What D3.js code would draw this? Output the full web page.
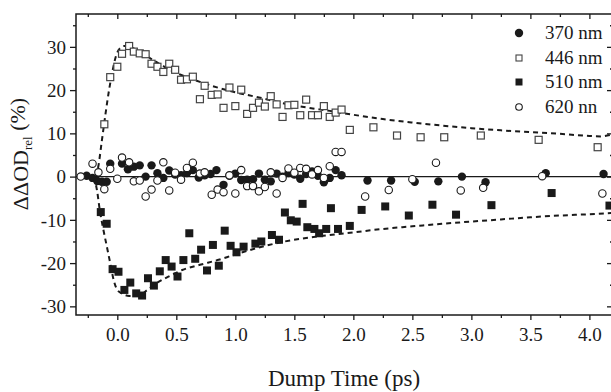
<!DOCTYPE html>
<html>
<head>
<meta charset="utf-8">
<script src="https://cdn.jsdelivr.net/npm/d3@7"></script>
<style>
  body { margin: 0; background: #fff; }
  svg text { font-family: "Liberation Serif", "Times New Roman", Times, "DejaVu Serif", serif; fill: #1a1a1a; }
</style>
</head>
<body>
<div id="chart"></div>
<script>
// ---- data ----
const t370 = [-0.26, -0.21, -0.17, -0.13, -0.09, -0.06, 0.04, 0.09, 0.14, 0.19, 0.24, 0.29, 0.34, 0.39, 0.44, 0.49, 0.54, 0.59, 0.64, 0.69, 0.74, 0.79, 0.84, 0.90, 0.95, 1.00, 1.05, 1.10, 1.15, 1.20, 1.25, 1.30, 1.35, 1.40, 1.45, 1.50, 1.55, 1.60, 1.65, 1.70, 1.75, 1.80, 1.85, 1.90, 2.12, 2.32, 2.52, 2.72, 2.92, 3.12, 3.63, 4.12];
const v370 = [0.2, -0.3, -1.0, -1.2, -1.2, 3.0, 3.0, 1.7, 2.3, 2.6, 0.0, 2.6, 0.8, -0.3, 1.4, 0.5, 0.3, 0.8, 1.5, -0.2, 0.3, 0.6, 1.5, -1.9, 0.2, 0.7, -0.8, -0.7, -0.6, 0.7, -0.7, -1.1, 0.7, 0.0, 0.8, 0.5, -0.5, 0.6, 1.2, 0.2, -1.3, -0.3, 1.5, 0.3, -0.9, -0.9, -1.2, -1.1, 0.0, -1.3, 0.8, 0.6];

const t446 = [-0.11, -0.06, 0.0, 0.04, 0.10, 0.14, 0.19, 0.24, 0.29, 0.34, 0.39, 0.44, 0.49, 0.54, 0.59, 0.64, 0.70, 0.74, 0.80, 0.85, 0.90, 0.95, 1.00, 1.05, 1.10, 1.15, 1.20, 1.25, 1.30, 1.35, 1.40, 1.45, 1.50, 1.55, 1.60, 1.65, 1.70, 1.75, 1.80, 1.85, 1.90, 1.97, 2.17, 2.37, 2.57, 2.77, 3.08, 3.57, 4.07];
const v446 = [12.1, 23.0, 25.4, 28.4, 30.2, 28.9, 28.5, 28.3, 26.1, 25.4, 24.2, 26.1, 24.7, 22.4, 22.5, 23.1, 17.9, 21.0, 18.9, 19.0, 15.9, 20.6, 16.3, 20.1, 14.5, 15.9, 17.1, 16.2, 18.6, 16.7, 13.8, 16.5, 16.6, 14.2, 17.8, 14.2, 14.2, 16.3, 13.8, 14.8, 15.5, 10.8, 11.4, 9.5, 9.1, 9.1, 9.5, 8.5, 6.8];

const t510 = [-0.14, -0.09, -0.04, 0.01, 0.06, 0.11, 0.16, 0.21, 0.26, 0.31, 0.36, 0.41, 0.46, 0.51, 0.56, 0.61, 0.66, 0.71, 0.76, 0.81, 0.86, 0.91, 0.96, 1.01, 1.07, 1.17, 1.22, 1.31, 1.37, 1.42, 1.47, 1.52, 1.57, 1.61, 1.67, 1.71, 1.77, 1.81, 1.87, 1.97, 2.07, 2.27, 2.47, 2.67, 2.87, 3.17, 3.68, 4.17];
const v510 = [-8.2, -10.9, -21.4, -22.0, -26.2, -24.5, -27.0, -27.5, -23.5, -25.2, -21.9, -19.3, -20.8, -23.1, -19.3, -13.1, -19.0, -16.9, -21.7, -15.8, -20.6, -12.5, -16.0, -17.5, -16.2, -15.5, -15.0, -13.5, -14.6, -8.3, -10.1, -10.4, -6.3, -11.7, -12.1, -13.1, -12.1, -7.3, -12.1, -11.4, -7.7, -6.9, -9.0, -6.5, -8.8, -6.6, -3.8, -6.7];

const t620 = [-0.31, -0.21, -0.16, -0.11, -0.06, 0.0, 0.04, 0.10, 0.14, 0.19, 0.24, 0.29, 0.34, 0.39, 0.44, 0.49, 0.54, 0.59, 0.64, 0.70, 0.74, 0.80, 0.85, 0.90, 0.95, 1.00, 1.05, 1.10, 1.15, 1.20, 1.25, 1.30, 1.35, 1.40, 1.45, 1.50, 1.55, 1.60, 1.65, 1.70, 1.75, 1.80, 1.85, 1.90, 2.10, 2.30, 2.50, 2.70, 2.91, 3.10, 3.60, 4.11];
const v620 = [0.0, 3.0, 1.0, -2.9, 1.8, -0.5, 4.4, 3.3, -1.1, -0.9, -4.6, -3.0, -0.9, 3.3, -3.2, 0.9, -0.7, 2.0, 3.2, 0.7, 1.0, -4.2, -3.0, -3.6, 0.3, -3.9, 1.5, -2.2, -2.2, -3.4, -2.4, 1.0, -3.9, -0.3, 1.9, 0.9, 2.0, 1.8, 0.5, 1.5, -0.3, 2.4, 5.7, 5.7, -4.6, -3.1, -0.6, 3.2, -3.2, -2.6, 0.1, -3.9];

// dashed fit curves (traced)
const tFit446 = [-0.18, -0.16, -0.13, -0.10, -0.07, -0.04, -0.01, 0.02, 0.06, 0.10, 0.20, 0.30, 0.40, 0.50, 0.60, 0.70, 0.80, 0.90, 1.00, 1.20, 1.40, 1.60, 1.80, 2.00, 2.25, 2.50, 2.75, 3.00, 3.25, 3.50, 3.75, 4.00, 4.10, 4.20];
const vFit446 = [0.0, 2.5, 8.5, 14.5, 20.0, 24.5, 28.0, 29.6, 30.2, 30.0, 28.8, 27.0, 25.4, 24.0, 22.9, 21.9, 21.0, 20.2, 19.5, 18.3, 17.0, 16.0, 15.2, 14.3, 13.3, 12.5, 11.8, 11.2, 10.7, 10.3, 9.9, 9.4, 9.3, 9.8];
const tFit510 = [-0.20, -0.17, -0.15, -0.12, -0.09, -0.06, -0.03, 0.00, 0.05, 0.10, 0.18, 0.25, 0.33, 0.45, 0.55, 0.70, 0.85, 1.00, 1.20, 1.40, 1.60, 1.80, 2.00, 2.25, 2.50, 2.75, 3.00, 3.25, 3.50, 3.75, 4.00, 4.20];
const vFit510 = [0.0, -3.5, -7.5, -12.0, -16.0, -20.0, -24.0, -26.2, -27.2, -27.6, -27.6, -26.3, -24.7, -22.9, -21.6, -20.4, -19.3, -18.0, -16.4, -15.1, -14.2, -13.5, -12.9, -12.1, -11.5, -10.9, -10.4, -9.9, -9.4, -9.0, -8.7, -8.4];

const xTicks = [0, 0.5, 1.0, 1.5, 2.0, 2.5, 3.0, 3.5, 4.0];
const xMinor = [-0.25, 0.25, 0.75, 1.25, 1.75, 2.25, 2.75, 3.25, 3.75];
const yTicks = [-30, -20, -10, 0, 10, 20, 30];
const yMinor = [-25, -15, -5, 5, 15, 25, 35];
const legendLabels = ["370 nm", "446 nm", "510 nm", "620 nn"];

// ---- drawing ----
const serif = "'Liberation Serif', 'Times New Roman', Times, 'DejaVu Serif', serif";
const width = 611, height = 392;
const svg = d3.select("#chart").append("svg")
    .attr("width", width).attr("height", height)
    .attr("font-family", serif);

const x = d3.scaleLinear().domain([-0.35, 4.2]).range([76, 613]);
const y = d3.scaleLinear().domain([-32, 37.6]).range([315, 14]);

const zip = (ts, vs) => ts.map((t, i) => ({ t: t, v: vs[i] }));

// zero line
svg.append("line")
    .attr("x1", x(-0.35)).attr("x2", x(4.2))
    .attr("y1", y(0)).attr("y2", y(0))
    .attr("stroke", "#1a1a1a").attr("stroke-width", 1.1);

// fit curves
const line = d3.line().x(d => x(d.t)).y(d => y(d.v)).curve(d3.curveMonotoneX);
[zip(tFit446, vFit446), zip(tFit510, vFit510)].forEach(pts => {
    svg.append("path").datum(pts)
        .attr("d", line)
        .attr("fill", "none").attr("stroke", "#1a1a1a")
        .attr("stroke-width", 2).attr("stroke-dasharray", "5,4");
});

// markers
svg.append("g").selectAll("rect").data(zip(t446, v446)).enter().append("rect")
    .attr("x", d => x(d.t) - 3.5).attr("y", d => y(d.v) - 3.5)
    .attr("width", 7).attr("height", 7)
    .attr("fill", "#fff").attr("stroke", "#444").attr("stroke-width", 1.2);

svg.append("g").selectAll("circle").data(zip(t370, v370)).enter().append("circle")
    .attr("cx", d => x(d.t)).attr("cy", d => y(d.v)).attr("r", 4.2)
    .attr("fill", "#1a1a1a");

svg.append("g").selectAll("circle").data(zip(t620, v620)).enter().append("circle")
    .attr("cx", d => x(d.t)).attr("cy", d => y(d.v)).attr("r", 3.7)
    .attr("fill", "#fff").attr("stroke", "#1a1a1a").attr("stroke-width", 1.1);

svg.append("g").selectAll("rect").data(zip(t510, v510)).enter().append("rect")
    .attr("x", d => x(d.t) - 4).attr("y", d => y(d.v) - 4)
    .attr("width", 8).attr("height", 8)
    .attr("fill", "#1a1a1a");

// frame
svg.append("rect")
    .attr("x", 76).attr("y", 14).attr("width", 613 - 76).attr("height", 315 - 14)
    .attr("fill", "none").attr("stroke", "#1a1a1a").attr("stroke-width", 1.5);

// axes
function strip(g) {
    g.attr("font-family", serif);
    g.select(".domain").remove();
    g.selectAll("line").attr("stroke", "#1a1a1a").attr("stroke-width", 1.3);
}

const xb = svg.append("g").attr("transform", "translate(0,315)")
    .call(d3.axisBottom(x).tickValues(xTicks).tickFormat(d3.format(".1f")).tickSizeInner(5).tickSizeOuter(0))
    .call(strip);
xb.selectAll("text").attr("y", 26).attr("dy", 0)
    .attr("font-family", serif).style("font-size", "19px").attr("fill", "#1a1a1a");
svg.append("g").attr("transform", "translate(0,315)")
    .call(d3.axisBottom(x).tickValues(xMinor).tickFormat("").tickSizeInner(3).tickSizeOuter(0))
    .call(strip);

svg.append("g").attr("transform", "translate(0,14)")
    .call(d3.axisTop(x).tickValues(xTicks).tickFormat("").tickSizeInner(-5).tickSizeOuter(0))
    .call(strip);
svg.append("g").attr("transform", "translate(0,14)")
    .call(d3.axisTop(x).tickValues(xMinor).tickFormat("").tickSizeInner(-3).tickSizeOuter(0))
    .call(strip);

const yl = svg.append("g").attr("transform", "translate(76,0)")
    .call(d3.axisLeft(y).tickValues(yTicks).tickFormat(d => String(d)).tickSizeInner(6).tickSizeOuter(0))
    .call(strip);
yl.selectAll("text").attr("x", -10).attr("dy", "0.33em")
    .attr("font-family", serif).style("font-size", "19px").attr("fill", "#1a1a1a");
svg.append("g").attr("transform", "translate(76,0)")
    .call(d3.axisLeft(y).tickValues(yMinor).tickFormat("").tickSizeInner(3).tickSizeOuter(0))
    .call(strip);

svg.append("g").attr("transform", "translate(613,0)")
    .call(d3.axisRight(y).tickValues(yTicks).tickFormat("").tickSizeInner(-6).tickSizeOuter(0))
    .call(strip);
svg.append("g").attr("transform", "translate(613,0)")
    .call(d3.axisRight(y).tickValues(yMinor).tickFormat("").tickSizeInner(-3).tickSizeOuter(0))
    .call(strip);

// axis titles
svg.append("text")
    .attr("x", 344).attr("y", 386)
    .attr("text-anchor", "middle").attr("font-family", serif).style("font-size", "23px")
    .text("Dump Time (ps)");

const yt = svg.append("text")
    .attr("transform", "translate(28,154) rotate(-90)")
    .attr("text-anchor", "middle").attr("font-family", serif).style("font-size", "22px");
yt.append("tspan").text("\u0394\u0394OD");
yt.append("tspan").attr("dy", "0.3em").style("font-size", "13px").text("rel");
yt.append("tspan").attr("dy", "-0.3em").text(" (%)");

// legend
const legend = svg.append("g");
const rowY = [33, 58, 82, 107];
legendLabels.forEach((lab, i) => {
    const cy = rowY[i], cx = 519;
    if (i === 0) legend.append("circle").attr("cx", cx).attr("cy", cy).attr("r", 4.2).attr("fill", "#1a1a1a");
    if (i === 1) legend.append("rect").attr("x", cx - 3).attr("y", cy - 3).attr("width", 6).attr("height", 6)
        .attr("fill", "#fff").attr("stroke", "#444").attr("stroke-width", 1.1);
    if (i === 2) legend.append("rect").attr("x", cx - 3.5).attr("y", cy - 3.5).attr("width", 7).attr("height", 7).attr("fill", "#1a1a1a");
    if (i === 3) legend.append("circle").attr("cx", cx).attr("cy", cy).attr("r", 3.3)
        .attr("fill", "#fff").attr("stroke", "#1a1a1a").attr("stroke-width", 1.1);
    legend.append("text").attr("x", 545).attr("y", cy).attr("dy", "0.34em")
        .attr("font-family", serif).style("font-size", "19px").text(lab);
});
</script>
</body>
</html>
